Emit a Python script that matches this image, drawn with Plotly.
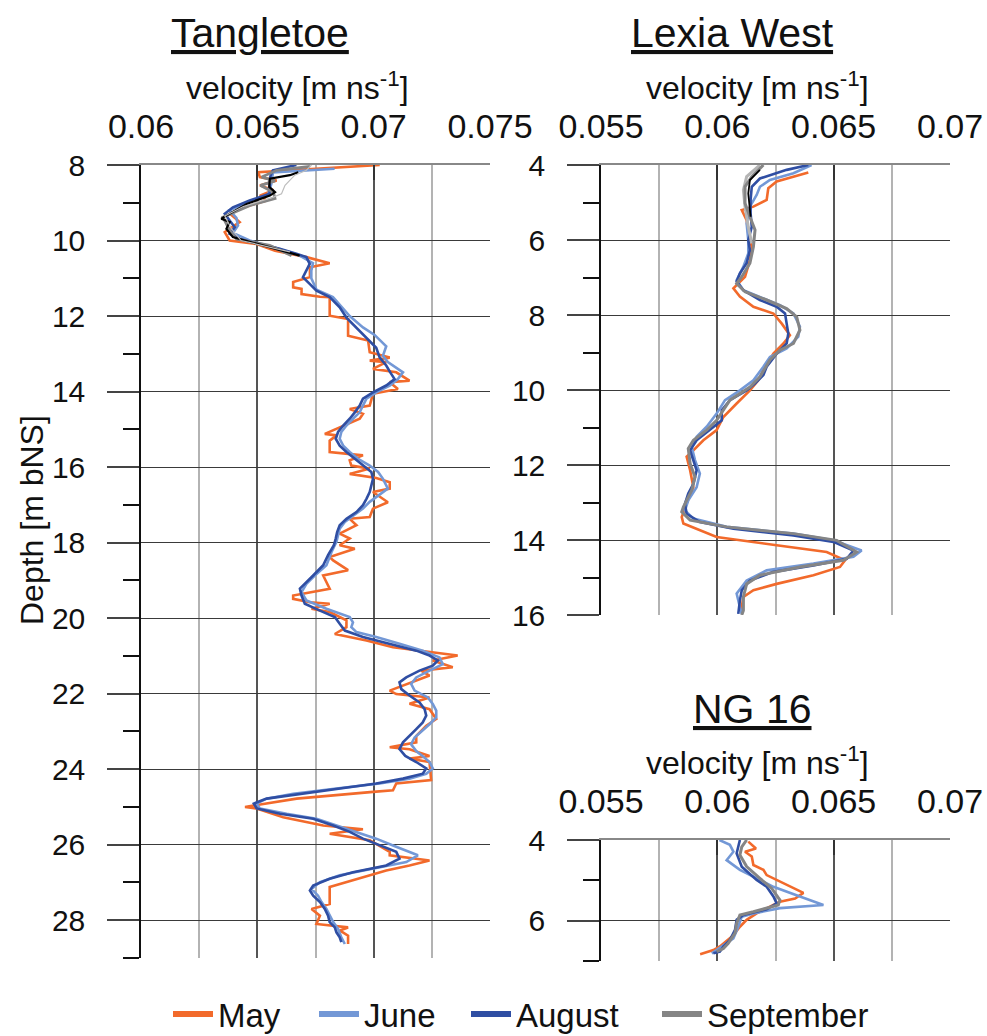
import plotly.graph_objects as go

# ---------------- data: Tangletoe (depth m bNS, velocity m/ns) ----------------
t_may_depth = [8.00, 8.19, 8.32, 8.41, 8.54, 8.67, 8.81, 8.94, 9.12, 9.29, 9.51, 9.78, 10.00, 10.09, 10.27, 10.44, 10.60, 10.71, 10.97, 11.10, 11.24, 11.28, 11.42, 11.49, 11.50, 11.99, 12.08, 12.52, 12.65, 12.96, 13.10, 13.18, 13.22, 13.40, 13.49, 13.71, 13.75, 13.93, 14.06, 14.37, 14.46, 14.59, 14.72, 14.94, 15.12, 15.16, 15.30, 15.60, 15.69, 15.82, 15.96, 16.04, 16.18, 16.29, 16.40, 16.57, 16.66, 16.93, 17.10, 17.32, 17.37, 17.54, 17.76, 17.89, 18.07, 18.16, 18.38, 18.47, 18.73, 18.87, 19.22, 19.40, 19.49, 19.58, 19.62, 19.75, 19.84, 20.06, 20.24, 20.42, 20.59, 20.77, 20.90, 20.99, 21.12, 21.30, 21.39, 21.52, 21.92, 22.01, 22.10, 22.27, 22.41, 22.67, 22.85, 23.12, 23.29, 23.42, 23.47, 23.65, 23.72, 23.81, 24.29, 24.38, 24.56, 24.60, 24.78, 25.00, 25.04, 25.27, 25.49, 25.59, 25.71, 25.88, 26.19, 26.28, 26.42, 26.55, 26.68, 26.81, 27.12, 27.57, 27.70, 27.88, 28.10, 28.19, 28.27, 28.41, 28.63]
t_may_vel = [0.07026, 0.06504, 0.06511, 0.06583, 0.06511, 0.06569, 0.06511, 0.06540, 0.06440, 0.06383, 0.06424, 0.06360, 0.06381, 0.06497, 0.06576, 0.06711, 0.06811, 0.06726, 0.06726, 0.06654, 0.06654, 0.06690, 0.06690, 0.06769, 0.06811, 0.06811, 0.06890, 0.06890, 0.06976, 0.06983, 0.07069, 0.06983, 0.07054, 0.06997, 0.07097, 0.07154, 0.07069, 0.07104, 0.06997, 0.06983, 0.06897, 0.06954, 0.06940, 0.06854, 0.06790, 0.06840, 0.06811, 0.06811, 0.06954, 0.06897, 0.06904, 0.06983, 0.06897, 0.07011, 0.07069, 0.07069, 0.06997, 0.07061, 0.06997, 0.06983, 0.06897, 0.06926, 0.06854, 0.06897, 0.06854, 0.06919, 0.06811, 0.06826, 0.06890, 0.06783, 0.06811, 0.06654, 0.06654, 0.06726, 0.06811, 0.06733, 0.06811, 0.06883, 0.06883, 0.06833, 0.06969, 0.07083, 0.07240, 0.07361, 0.07254, 0.07340, 0.07204, 0.07240, 0.07069, 0.07097, 0.07240, 0.07154, 0.07240, 0.07269, 0.07226, 0.07183, 0.07183, 0.07069, 0.07154, 0.07240, 0.07154, 0.07240, 0.07247, 0.07097, 0.07083, 0.06997, 0.06669, 0.06447, 0.06497, 0.06611, 0.06783, 0.06954, 0.06811, 0.06983, 0.07069, 0.07069, 0.07240, 0.07154, 0.07054, 0.06983, 0.06811, 0.06811, 0.06733, 0.06769, 0.06754, 0.06890, 0.06854, 0.06890, 0.06890]

t_jun_depth = [8.10, 8.20, 8.50, 8.80, 9.00, 9.20, 9.40, 9.60, 9.80, 10.00, 10.20, 10.40, 10.60, 10.80, 11.00, 11.30, 11.50, 11.80, 12.00, 12.30, 12.50, 12.80, 13.05, 13.22, 13.49, 13.67, 13.84, 14.02, 14.19, 14.37, 14.55, 14.72, 14.90, 15.07, 15.25, 15.43, 15.60, 15.78, 15.96, 16.13, 16.31, 16.57, 16.75, 16.92, 17.10, 17.28, 17.45, 17.63, 17.81, 17.98, 18.25, 18.60, 18.87, 19.09, 19.31, 19.53, 19.75, 19.97, 20.11, 20.24, 20.37, 20.50, 20.68, 20.86, 21.04, 21.22, 21.39, 21.57, 21.74, 21.92, 22.10, 22.27, 22.45, 22.63, 22.81, 22.98, 23.16, 23.34, 23.52, 23.70, 23.81, 23.98, 24.12, 24.25, 24.38, 24.51, 24.65, 24.78, 24.91, 25.04, 25.18, 25.31, 25.49, 25.66, 25.84, 26.02, 26.19, 26.28, 26.46, 26.64, 26.81, 26.99, 27.17, 27.35, 27.52, 27.70, 27.88, 28.05, 28.23, 28.45, 28.63]
t_jun_vel = [0.06832, 0.06567, 0.06560, 0.06546, 0.06453, 0.06381, 0.06410, 0.06417, 0.06395, 0.06467, 0.06582, 0.06682, 0.06739, 0.06732, 0.06732, 0.06754, 0.06825, 0.06868, 0.06897, 0.06954, 0.07004, 0.07054, 0.07040, 0.07061, 0.07126, 0.07104, 0.07069, 0.07011, 0.06969, 0.06954, 0.06940, 0.06911, 0.06883, 0.06861, 0.06854, 0.06869, 0.06897, 0.06933, 0.06983, 0.07019, 0.07040, 0.07061, 0.07019, 0.06983, 0.06954, 0.06911, 0.06876, 0.06854, 0.06847, 0.06840, 0.06819, 0.06797, 0.06747, 0.06711, 0.06690, 0.06711, 0.06797, 0.06897, 0.06911, 0.06904, 0.06926, 0.07011, 0.07111, 0.07211, 0.07283, 0.07297, 0.07240, 0.07183, 0.07161, 0.07176, 0.07233, 0.07254, 0.07269, 0.07269, 0.07240, 0.07211, 0.07176, 0.07161, 0.07183, 0.07219, 0.07240, 0.07254, 0.07226, 0.07154, 0.07026, 0.06840, 0.06654, 0.06540, 0.06497, 0.06511, 0.06626, 0.06754, 0.06840, 0.06926, 0.07011, 0.07083, 0.07154, 0.07190, 0.07140, 0.06997, 0.06854, 0.06769, 0.06733, 0.06761, 0.06776, 0.06797, 0.06811, 0.06826, 0.06847, 0.06861, 0.06876]

t_aug_depth = [8.00, 8.14, 8.30, 8.50, 8.76, 8.94, 9.12, 9.29, 9.47, 9.65, 9.82, 9.96, 10.09, 10.22, 10.35, 10.44, 10.62, 10.80, 10.97, 11.15, 11.33, 11.50, 11.77, 12.04, 12.30, 12.57, 12.84, 13.10, 13.31, 13.50, 13.67, 13.84, 14.02, 14.19, 14.37, 14.55, 14.72, 14.90, 15.07, 15.25, 15.43, 15.60, 15.78, 15.96, 16.13, 16.31, 16.48, 16.66, 16.84, 17.01, 17.19, 17.37, 17.54, 17.72, 17.89, 18.07, 18.33, 18.60, 18.87, 19.04, 19.22, 19.40, 19.62, 19.80, 19.97, 20.15, 20.33, 20.50, 20.68, 20.86, 20.99, 21.12, 21.26, 21.39, 21.57, 21.70, 21.88, 22.05, 22.23, 22.41, 22.58, 22.76, 22.94, 23.12, 23.29, 23.47, 23.65, 23.81, 23.98, 24.12, 24.25, 24.38, 24.51, 24.65, 24.78, 24.91, 25.04, 25.18, 25.31, 25.49, 25.66, 25.84, 26.02, 26.19, 26.37, 26.55, 26.73, 26.90, 27.08, 27.21, 27.35, 27.52, 27.70, 27.88, 28.05, 28.19, 28.32, 28.45, 28.58]
t_aug_vel = [0.06668, 0.06567, 0.06556, 0.06553, 0.06553, 0.06467, 0.06395, 0.06360, 0.06381, 0.06403, 0.06381, 0.06424, 0.06510, 0.06596, 0.06668, 0.06711, 0.06725, 0.06711, 0.06696, 0.06725, 0.06754, 0.06811, 0.06854, 0.06883, 0.06926, 0.06968, 0.07011, 0.07026, 0.07054, 0.07072, 0.07090, 0.07054, 0.06997, 0.06954, 0.06940, 0.06919, 0.06897, 0.06869, 0.06847, 0.06837, 0.06854, 0.06883, 0.06919, 0.06954, 0.06990, 0.06997, 0.06990, 0.06983, 0.06969, 0.06954, 0.06926, 0.06883, 0.06854, 0.06843, 0.06837, 0.06829, 0.06804, 0.06783, 0.06740, 0.06711, 0.06683, 0.06690, 0.06704, 0.06769, 0.06833, 0.06854, 0.06876, 0.06954, 0.07069, 0.07183, 0.07240, 0.07276, 0.07254, 0.07197, 0.07140, 0.07111, 0.07119, 0.07154, 0.07197, 0.07219, 0.07226, 0.07211, 0.07183, 0.07154, 0.07126, 0.07111, 0.07136, 0.07183, 0.07226, 0.07211, 0.07126, 0.07011, 0.06854, 0.06683, 0.06540, 0.06485, 0.06497, 0.06597, 0.06740, 0.06826, 0.06897, 0.06954, 0.07026, 0.07097, 0.07111, 0.07054, 0.06911, 0.06811, 0.06740, 0.06726, 0.06740, 0.06769, 0.06790, 0.06804, 0.06811, 0.06833, 0.06840, 0.06854, 0.06861]

t_sep_depth = [8.04, 8.14, 8.32, 8.42, 8.54, 8.72, 8.89, 9.07, 9.38, 9.73, 9.96, 10.13, 10.40]
t_sep_vel = [0.06726, 0.06583, 0.06519, 0.06576, 0.06514, 0.06569, 0.06576, 0.06469, 0.06352, 0.06381, 0.06410, 0.06553, 0.06647]

t_blk_depth = [8.19, 8.27, 8.36, 8.58, 8.72, 8.81, 9.03, 9.42, 9.51, 9.69, 9.91, 10.13, 10.40]
t_blk_vel = [0.06676, 0.06640, 0.06554, 0.06551, 0.06576, 0.06554, 0.06454, 0.06345, 0.06381, 0.06367, 0.06395, 0.06524, 0.06682]

t_lgr_depth = [8.00, 8.14, 8.27, 8.54, 8.76, 8.85, 9.10, 9.35, 9.70, 10.00, 10.30]
t_lgr_vel = [0.06733, 0.06711, 0.06661, 0.06619, 0.06604, 0.06569, 0.06440, 0.06360, 0.06390, 0.06430, 0.06640]

# ---------------- data: Lexia West ----------------
l_may_depth = [4.20, 4.44, 4.62, 4.93, 5.11, 5.20, 5.47, 5.82, 6.18, 6.54, 6.98, 7.29, 7.51, 7.78, 7.96, 8.23, 8.54, 8.76, 9.03, 9.47, 9.74, 10.01, 10.36, 10.72, 11.07, 11.34, 11.61, 11.78, 12.14, 12.59, 13.03, 13.39, 13.56, 13.92, 14.14, 14.32, 14.54, 14.72, 14.94, 15.17, 15.34, 15.52, 15.79, 15.92]
l_may_vel = [0.06391, 0.06255, 0.06219, 0.06212, 0.06155, 0.06105, 0.06126, 0.06133, 0.06148, 0.06140, 0.06119, 0.06069, 0.06097, 0.06155, 0.06241, 0.06277, 0.06312, 0.06284, 0.06241, 0.06198, 0.06176, 0.06140, 0.06083, 0.06026, 0.05997, 0.05940, 0.05897, 0.05868, 0.05883, 0.05897, 0.05868, 0.05847, 0.05854, 0.05997, 0.06255, 0.06470, 0.06549, 0.06527, 0.06413, 0.06255, 0.06155, 0.06112, 0.06105, 0.06105]

l_jun_depth = [4.00, 4.22, 4.40, 4.58, 4.80, 5.11, 5.56, 6.00, 6.36, 6.71, 7.07, 7.34, 7.56, 7.74, 7.96, 8.31, 8.58, 8.89, 9.12, 9.38, 9.74, 10.01, 10.27, 10.63, 10.98, 11.25, 11.52, 11.87, 12.23, 12.59, 12.94, 13.21, 13.43, 13.65, 13.83, 14.01, 14.28, 14.45, 14.63, 14.81, 15.08, 15.43, 15.79, 15.97]
l_jun_vel = [0.06405, 0.06327, 0.06226, 0.06183, 0.06169, 0.06140, 0.06126, 0.06133, 0.06133, 0.06112, 0.06083, 0.06112, 0.06198, 0.06269, 0.06327, 0.06355, 0.06348, 0.06298, 0.06226, 0.06198, 0.06155, 0.06097, 0.06033, 0.05997, 0.05954, 0.05911, 0.05890, 0.05904, 0.05925, 0.05911, 0.05875, 0.05861, 0.05897, 0.06040, 0.06327, 0.06499, 0.06620, 0.06585, 0.06413, 0.06212, 0.06126, 0.06083, 0.06097, 0.06105]

l_aug_depth = [4.00, 4.13, 4.36, 4.58, 4.93, 5.29, 5.65, 6.00, 6.27, 6.62, 6.89, 7.11, 7.34, 7.60, 7.78, 7.96, 8.23, 8.49, 8.76, 9.03, 9.38, 9.60, 9.83, 10.01, 10.27, 10.54, 10.81, 11.07, 11.34, 11.61, 11.87, 12.14, 12.50, 12.76, 13.03, 13.30, 13.52, 13.70, 13.88, 14.05, 14.28, 14.50, 14.68, 14.85, 15.08, 15.34, 15.61, 15.97]
l_aug_vel = [0.06391, 0.06298, 0.06183, 0.06148, 0.06143, 0.06143, 0.06148, 0.06133, 0.06140, 0.06126, 0.06097, 0.06083, 0.06112, 0.06183, 0.06255, 0.06291, 0.06298, 0.06305, 0.06298, 0.06255, 0.06212, 0.06198, 0.06162, 0.06126, 0.06054, 0.06019, 0.06019, 0.05968, 0.05911, 0.05883, 0.05897, 0.05911, 0.05897, 0.05875, 0.05861, 0.05868, 0.05925, 0.06069, 0.06327, 0.06499, 0.06585, 0.06556, 0.06413, 0.06241, 0.06140, 0.06105, 0.06097, 0.06090]

l_sep_depth = [4.00, 4.31, 4.58, 5.02, 5.38, 5.73, 6.18, 6.62, 6.98, 7.16, 7.38, 7.60, 7.83, 8.05, 8.40, 8.76, 8.94, 9.20, 9.65, 9.92, 10.27, 10.81, 11.07, 11.34, 11.56, 11.96, 12.32, 12.67, 13.12, 13.25, 13.47, 13.65, 13.83, 14.01, 14.32, 14.54, 14.72, 14.94, 15.17, 15.52, 15.88, 16.00]
l_sep_vel = [0.06198, 0.06148, 0.06119, 0.06119, 0.06140, 0.06162, 0.06155, 0.06140, 0.06105, 0.06083, 0.06119, 0.06212, 0.06298, 0.06341, 0.06355, 0.06327, 0.06269, 0.06226, 0.06183, 0.06140, 0.06054, 0.05997, 0.05954, 0.05897, 0.05875, 0.05883, 0.05904, 0.05890, 0.05854, 0.05847, 0.05883, 0.06040, 0.06327, 0.06513, 0.06599, 0.06542, 0.06355, 0.06183, 0.06126, 0.06112, 0.06112, 0.06105]

l_blk_depth = [4.13, 4.40, 4.76, 5.11, 5.38]
l_blk_vel = [0.06183, 0.06140, 0.06133, 0.06140, 0.06143]

l_lgr_depth = [4.00, 4.31, 4.67, 5.11, 5.65, 6.09]
l_lgr_vel = [0.06183, 0.06126, 0.06112, 0.06119, 0.06133, 0.06148]

# ---------------- data: NG 16 ----------------
n_may_depth = [4.04, 4.21, 4.29, 4.41, 4.62, 4.74, 4.87, 5.12, 5.31, 5.45, 5.53, 5.61, 5.82, 5.98, 6.15, 6.36, 6.52, 6.64, 6.73, 6.83]
n_may_vel = [0.06133, 0.06166, 0.06119, 0.06148, 0.06155, 0.06198, 0.06212, 0.06298, 0.06370, 0.06334, 0.06269, 0.06241, 0.06169, 0.06126, 0.06097, 0.06069, 0.06033, 0.06011, 0.05983, 0.05926]

n_jun_depth = [4.00, 4.12, 4.29, 4.50, 4.74, 4.99, 5.16, 5.40, 5.61, 5.69, 5.82, 5.90, 6.15, 6.44, 6.60, 6.73, 6.81]
n_jun_vel = [0.06009, 0.06054, 0.06069, 0.06040, 0.06097, 0.06183, 0.06241, 0.06355, 0.06456, 0.06269, 0.06155, 0.06105, 0.06090, 0.06069, 0.06026, 0.05997, 0.05976]

n_aug_depth = [4.00, 4.17, 4.33, 4.66, 4.99, 5.16, 5.40, 5.57, 5.72, 5.86, 5.98, 6.23, 6.48, 6.64, 6.77, 6.81]
n_aug_vel = [0.06097, 0.06090, 0.06083, 0.06105, 0.06169, 0.06212, 0.06241, 0.06255, 0.06212, 0.06112, 0.06083, 0.06076, 0.06054, 0.06026, 0.06011, 0.05983]

n_sep_depth = [4.00, 4.17, 4.37, 4.66, 4.95, 5.20, 5.49, 5.61, 5.78, 5.86, 6.07, 6.31, 6.56, 6.69, 6.77]
n_sep_vel = [0.06126, 0.06105, 0.06097, 0.06126, 0.06183, 0.06234, 0.06269, 0.06262, 0.06155, 0.06097, 0.06083, 0.06076, 0.06047, 0.06026, 0.05997]

months = ["May", "June", "August", "September"]
month_colors = ["#F26A2B", "#7398D6", "#2F4EA3", "#858585"]

t_ticks = [0.06, 0.065, 0.07, 0.075]
t_ticktext = ["0.06", "0.065", "0.07", "0.075"]
l_ticks = [0.055, 0.06, 0.065, 0.07]
l_ticktext = ["0.055", "0.06", "0.065", "0.07"]

FONT = "Liberation Sans, Arial, sans-serif"
W, H = 987, 1036

fig = go.Figure()

def add_line(x, y, color, width, xa, ya):
    fig.add_trace(go.Scatter(x=x, y=y, mode="lines", line=dict(color=color, width=width),
                             xaxis=xa, yaxis=ya, showlegend=False, hoverinfo="skip"))

LW = 2.6
# Tangletoe
add_line(t_may_vel, t_may_depth, month_colors[0], LW, "x", "y")
add_line(t_jun_vel, t_jun_depth, month_colors[1], LW, "x", "y")
add_line(t_aug_vel, t_aug_depth, month_colors[2], LW, "x", "y")
add_line(t_sep_vel, t_sep_depth, month_colors[3], 2.8, "x", "y")
add_line(t_blk_vel, t_blk_depth, "#000000", 2.2, "x", "y")
add_line(t_lgr_vel, t_lgr_depth, "#bdbdbd", 1.2, "x", "y")
# Lexia West
add_line(l_may_vel, l_may_depth, month_colors[0], LW, "x2", "y2")
add_line(l_jun_vel, l_jun_depth, month_colors[1], LW, "x2", "y2")
add_line(l_aug_vel, l_aug_depth, month_colors[2], LW, "x2", "y2")
add_line(l_lgr_vel, l_lgr_depth, "#b5b5b5", 3.0, "x2", "y2")
add_line(l_sep_vel, l_sep_depth, month_colors[3], 3.0, "x2", "y2")
add_line(l_blk_vel, l_blk_depth, "#000000", 1.8, "x2", "y2")
# NG 16
add_line(n_may_vel, n_may_depth, month_colors[0], LW, "x3", "y3")
add_line(n_jun_vel, n_jun_depth, month_colors[1], LW, "x3", "y3")
add_line(n_aug_vel, n_aug_depth, month_colors[2], LW, "x3", "y3")
add_line(n_sep_vel, n_sep_depth, month_colors[3], 3.0, "x3", "y3")

def px(xp):
    return xp / W

def py(yp):
    return 1 - yp / H

# legend entries: one legend per month so that spacing matches
legend_x = [168, 314, 466, 657]
legend_names = ["legend", "legend2", "legend3", "legend4"]
leg_layout = {}
for m, c, lx, ln in zip(months, month_colors, legend_x, legend_names):
    fig.add_trace(go.Scatter(x=[None], y=[None], mode="lines", name=m, legend=ln,
                             line=dict(color=c, width=6), xaxis="x", yaxis="y"))
    leg_layout[ln] = dict(x=px(lx), xanchor="left", y=py(1014), yanchor="middle",
                          orientation="h", font=dict(family=FONT, size=33, color="#111"),
                          bgcolor="rgba(0,0,0,0)", borderwidth=0, itemwidth=40)

tick_font = dict(family=FONT, size=34, color="#111")

def xaxis_cfg(domain, rng, tv, tt, anchor):
    return dict(domain=domain, range=rng, side="top", anchor=anchor,
                tickvals=tv, ticktext=tt, ticks="inside", ticklen=15, tickcolor="#333",
                tickwidth=2, ticklabelstandoff=12, tickfont=tick_font,
                showgrid=True, gridcolor="#555", gridwidth=1.5,
                minor=dict(dtick=0.0025, tick0=0.055, showgrid=True, gridcolor="#b3b3b3", gridwidth=1.5, ticks=""),
                showline=True, linecolor="#888", linewidth=1.5, mirror=False, zeroline=False,
                automargin=False)

def yaxis_cfg(domain, rng, dtick, anchor):
    return dict(domain=domain, range=rng, anchor=anchor, tick0=0, dtick=dtick,
                ticks="outside", ticklen=32, tickcolor="#444", tickwidth=1.5,
                ticklabelstandoff=16, tickfont=dict(family=FONT, size=30, color="#111"),
                showgrid=True, gridcolor="#3a3a3a", gridwidth=1.3,
                minor=dict(dtick=1, ticks="outside", ticklen=16, tickcolor="#111", tickwidth=1.5, showgrid=False),
                showline=True, linecolor="#111", linewidth=1.5, zeroline=False, automargin=False)

fig.update_layout(
    width=W, height=H,
    margin=dict(l=0, r=0, t=0, b=0, autoexpand=False),
    paper_bgcolor="white", plot_bgcolor="white",
    font=dict(family=FONT, color="#111"),
    xaxis=xaxis_cfg([px(141), px(490)], [0.06, 0.075], t_ticks, t_ticktext, "y"),
    yaxis=yaxis_cfg([py(958), py(165)], [29, 8], 2, "x"),
    xaxis2=xaxis_cfg([px(601), px(950)], [0.055, 0.07], l_ticks, l_ticktext, "y2"),
    yaxis2=yaxis_cfg([py(615), py(165)], [16, 4], 2, "x2"),
    xaxis3=xaxis_cfg([px(601), px(950)], [0.055, 0.07], l_ticks, l_ticktext, "y3"),
    yaxis3=yaxis_cfg([py(961), py(840)], [7, 4], 2, "x3"),
    showlegend=True,
    **leg_layout,
)

title_font = dict(family=FONT, size=41, color="#111")
lab_font = dict(family=FONT, size=32, color="#111")
annos = [
    dict(text="<u>Tangletoe</u>", x=px(260), y=py(33), font=title_font),
    dict(text="<u>Lexia West</u>", x=px(732), y=py(33), font=title_font),
    dict(text="<u>NG 16</u>", x=px(752), y=py(709), font=title_font),
    dict(text="velocity [m ns<sup>-1</sup>]", x=px(297), y=py(86), font=lab_font),
    dict(text="velocity [m ns<sup>-1</sup>]", x=px(757), y=py(86), font=lab_font),
    dict(text="velocity [m ns<sup>-1</sup>]", x=px(757), y=py(761), font=lab_font),
    dict(text="Depth [m bNS]", x=px(32), y=py(520), font=lab_font, textangle=-90),
]
for a in annos:
    a.update(xref="paper", yref="paper", showarrow=False, xanchor="center", yanchor="middle")
    fig.add_annotation(**a)

fig.write_html("out.html")
